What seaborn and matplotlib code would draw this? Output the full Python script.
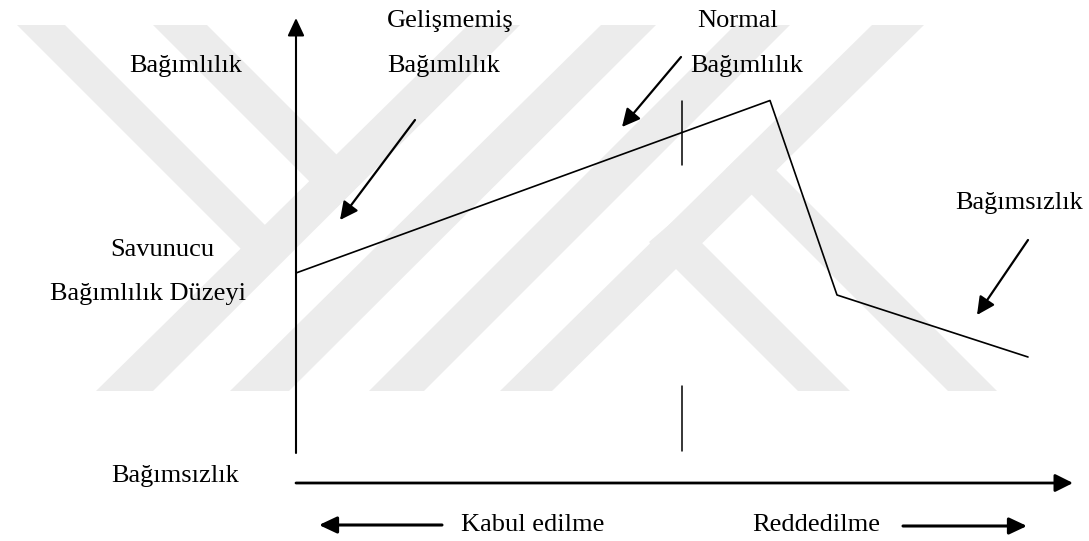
import matplotlib
matplotlib.use("Agg")
import matplotlib.pyplot as plt
import seaborn as sns
import pandas as pd

# Bağımlılık eğrisi (kabul -> ret ekseni boyunca), resim birimlerinde
stage_x = [296, 770, 837, 1028]
level_y = [273, 100.5, 295, 357]

# dikey ayırıcı (normal bağımlılık noktası)
split_x = 682
split_top = [(100.5, 165), (386, 451)]

# etiketler: (metin, x, taban çizgisi y)
labels = [
    ("Bağımlılık", 129, 72),
    ("Gelişmemiş", 387, 27),
    ("Bağımlılık", 387, 72),
    ("Normal", 697, 27),
    ("Bağımlılık", 690, 72),
    ("Bağımsızlık", 955, 209),
    ("Savunucu", 110, 256),
    ("Bağımlılık Düzeyi", 50, 300),
    ("Bağımsızlık", 111, 482),
    ("Kabul edilme", 461, 531),
    ("Reddedilme", 752, 531),
]

# işaret okları: (başlangıç, uç)
pointers = [
    ((415, 120), (340, 220)),
    ((681, 57), (622, 127)),
    ((1028, 240), (977, 315)),
]

# filigran bantları (açık gri)
watermark = [
    [(468, 25), (520, 25), (153, 391), (96, 391)],
    [(17, 25), (65, 25), (291, 251), (267, 275)],
    [(153, 25), (207, 25), (363, 181), (336, 208)],
    [(601, 25), (656, 25), (289, 391), (230, 391)],
    [(735, 25), (790, 25), (424, 391), (369, 391)],
    [(872, 25), (924, 25), (552, 391), (500, 391)],
    [(726, 169), (751, 145), (997, 391), (948, 391)],
    [(649, 242), (677, 218), (850, 391), (798, 391)],
]

sns.set_theme(style="white")
plt.rcParams['font.family'] = ['Liberation Serif', 'DejaVu Serif']

fig = plt.figure(figsize=(10.89, 5.41), dpi=100)
ax = fig.add_axes([0, 0, 1, 1])
ax.set_xlim(0, 1089)
ax.set_ylim(541, 0)
ax.axis('off')

for poly in watermark:
    xs, ys = zip(*poly)
    ax.fill(xs, ys, color='#ececec', lw=0, zorder=0)

df = pd.DataFrame({'x': stage_x, 'y': level_y})
sns.lineplot(data=df, x='x', y='y', sort=False, estimator=None,
             color='black', lw=1.2, ax=ax, zorder=3)

for y0, y1 in split_top:
    ax.plot([split_x, split_x], [y0, y1], color='black', lw=1.1)

def arrow(start, end, lw, hl=1.0, hw=0.5):
    ax.annotate('', xy=end, xytext=start,
                arrowprops=dict(arrowstyle=f'-|>,head_length={hl},head_width={hw}',
                                lw=lw, color='black', mutation_scale=10.8,
                                shrinkA=0, shrinkB=0))

# eksenler
arrow((296, 453), (296, 18), 1.5, 1.0, 0.47)
arrow((296, 483), (1073, 483), 2.0, 1.0, 0.5)
# alt oklar
arrow((442, 525), (319, 525), 2.2, 1.0, 0.47)
arrow((903, 526), (1027, 526), 2.2, 1.0, 0.47)

for start, end in pointers:
    arrow(start, end, 1.6, 1.0, 0.5)

for text, x, y in labels:
    ax.text(x, y, text, fontsize=19, ha='left', va='baseline', color='black')

fig.savefig('out.png', dpi=100)
